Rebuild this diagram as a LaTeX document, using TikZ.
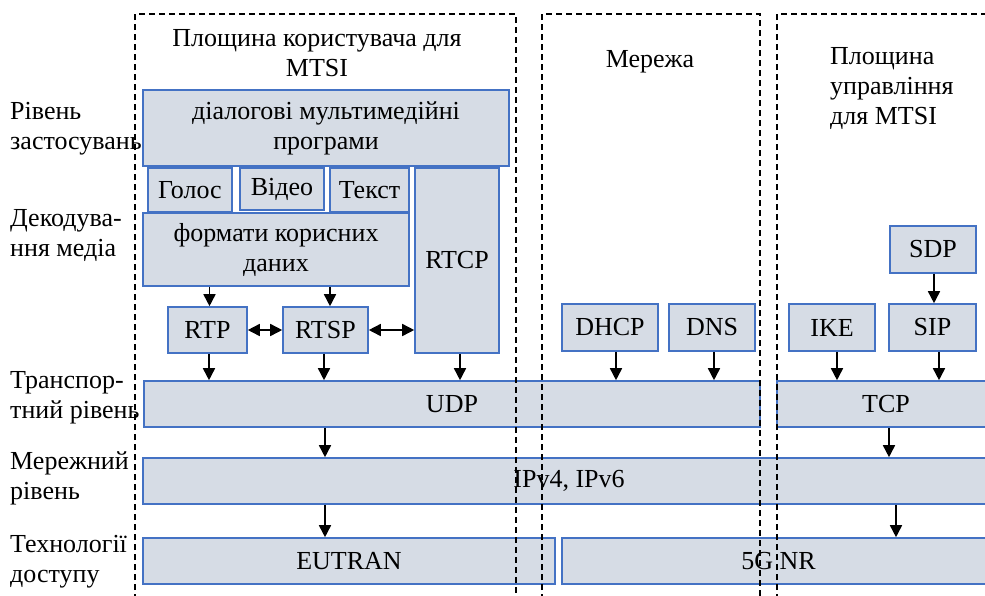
\documentclass[tikz,border=0pt]{standalone}
\usepackage{fontspec}
\setmainfont{Liberation Serif}
\usetikzlibrary{arrows.meta}
\definecolor{boxfill}{HTML}{D6DCE5}
\definecolor{boxline}{HTML}{4472C4}
\begin{document}
\begin{tikzpicture}[x=1pt,y=-1pt,
  txt/.style={font=\fontsize{26}{30}\selectfont},
  box/.style={txt, draw=boxline, fill=boxfill, line width=1.6pt, inner sep=0pt, align=center},
  lbl/.style={txt, inner sep=0pt, align=left, anchor=west},
  tip/.tip={Triangle[length=12pt,width=12pt]},
  arr/.style={line width=1.6pt, -tip},
  darr/.style={line width=1.6pt, tip-tip},
  region/.style={line width=1.6pt, dash pattern=on 6pt off 4pt}]
\useasboundingbox (0,0) rectangle (985,595);
\clip (0,0) rectangle (985,595);

% left labels
\node[lbl] (l1) at (10,129) {Рівень\\застосувань};
\node[lbl] (l2) at (10,235) {Декодува-\\ння медіа};
\node[lbl] (l3) at (10,398) {Транспор-\\тний рівень};
\node[lbl] (l4) at (10,478) {Мережний\\рівень};
\node[lbl] (l5) at (10,562) {Технології\\доступу};

% titles
\node[txt, align=center, inner sep=0pt] (t1) at (317,53) {Площина користувача для\\MTSI};
\node[txt, inner sep=0pt] (t2) at (650,62) {Мережа};
\node[txt, align=left, inner sep=0pt, anchor=west] (t3) at (830,88) {Площина\\управління\\для MTSI};

% boxes
\node[box, minimum width=366pt, minimum height=76pt] (app) at (326,128) {діалогові мультимедійні\\програми};
\node[box, minimum width=84pt, minimum height=44pt] (golos) at (190,190) {Голос};
\node[box, minimum width=84pt, minimum height=42pt] (video) at (282,189) {Відео};
\node[box, minimum width=79pt, minimum height=44pt] (tekst) at (369.5,190) {Текст};
\node[box, minimum width=84pt, minimum height=185pt] (rtcp) at (457,260.5) {RTCP};
\node[box, minimum width=266pt, minimum height=73pt] (fmt) at (276,249.5) {формати корисних\\даних};
\node[box, minimum width=79pt, minimum height=46pt] (rtp) at (207.5,330) {RTP};
\node[box, minimum width=85pt, minimum height=46pt] (rtsp) at (325.5,330) {RTSP};
\node[box, minimum width=616pt, minimum height=46pt] (udp) at (452,404) {UDP};
\node[box, minimum width=218pt, minimum height=46pt] (tcp) at (886,404) {TCP};
\node[box, minimum width=852pt, minimum height=46pt] (ip) at (569,481) {IPv4, IPv6};
\node[box, minimum width=412pt, minimum height=46pt] (eutran) at (349,561) {EUTRAN};
\node[box, minimum width=433pt, minimum height=46pt] (nr) at (778.5,561) {5G NR};
\node[box, minimum width=96pt, minimum height=47pt] (dhcp) at (610,327.5) {DHCP};
\node[box, minimum width=86pt, minimum height=47pt] (dns) at (712,327.5) {DNS};
\node[box, minimum width=86pt, minimum height=47pt] (ike) at (832,327.5) {IKE};
\node[box, minimum width=87pt, minimum height=47pt] (sip) at (932.5,327.5) {SIP};
\node[box, minimum width=86pt, minimum height=47pt] (sdp) at (933,249.5) {SDP};

% arrows
\draw[arr] ([xshift=2pt]rtp.north |- fmt.south) -- ([xshift=2pt]rtp.north);
\draw[arr] ([xshift=4.5pt]rtsp.north |- fmt.south) -- ([xshift=4.5pt]rtsp.north);
\draw[darr] (rtp.east) -- (rtsp.west);
\draw[darr] (rtsp.east) -- (rtcp.west |- rtsp.east);
\draw[arr] ([xshift=1.5pt]rtp.south) -- ([xshift=1.5pt]rtp.south |- udp.north);
\draw[arr] ([xshift=-1.5pt]rtsp.south) -- ([xshift=-1.5pt]rtsp.south |- udp.north);
\draw[arr] ([xshift=3pt]rtcp.south) -- ([xshift=3pt]rtcp.south |- udp.north);
\draw[arr] ([xshift=6pt]dhcp.south) -- ([xshift=6pt]dhcp.south |- udp.north);
\draw[arr] ([xshift=2pt]dns.south) -- ([xshift=2pt]dns.south |- udp.north);
\draw[arr] ([xshift=5pt]ike.south) -- ([xshift=5pt]ike.south |- tcp.north);
\draw[arr] ([xshift=6.5pt]sip.south) -- ([xshift=6.5pt]sip.south |- tcp.north);
\draw[arr] ([xshift=1pt]sdp.south) -- ([xshift=1pt]sdp.south |- sip.north);
\draw[arr] ([xshift=-0.5pt]rtsp.south |- udp.south) -- ([xshift=-0.5pt]rtsp.south |- ip.north);
\draw[arr] ([xshift=-0.5pt]rtsp.south |- ip.south) -- ([xshift=-0.5pt]rtsp.south |- eutran.north);
\draw[arr] ([xshift=3pt]tcp.south) -- ([xshift=3pt]tcp.south |- ip.north);
\draw[arr] ([xshift=10pt]tcp.south |- ip.south) -- ([xshift=10pt]tcp.south |- nr.north);

% dashed regions
\draw[region] (135,600) -- (135,14) -- (516,14) -- (516,600);
\draw[region] (542,600) -- (542,14) -- (760,14) -- (760,600);
\draw[region] (777,600) -- (777,14) -- (995,14);
\end{tikzpicture}
\end{document}
